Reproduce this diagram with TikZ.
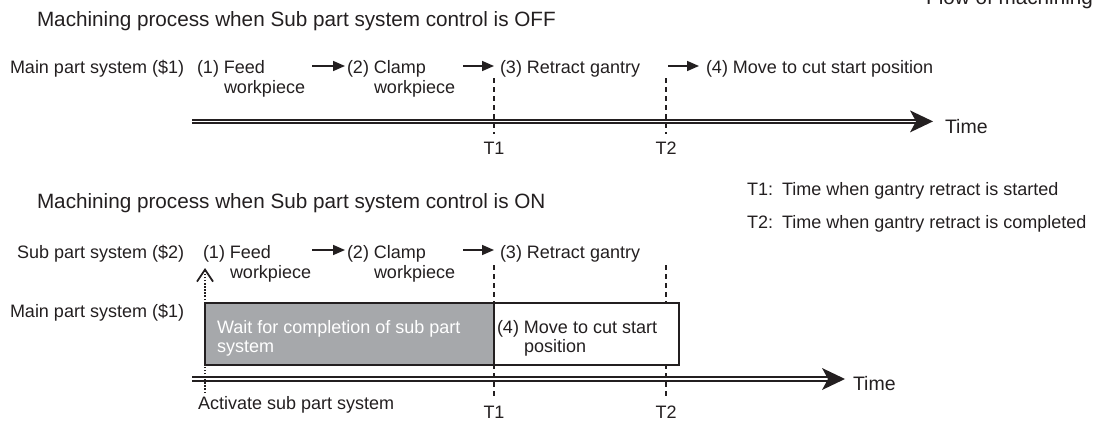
\documentclass[tikz,border=0pt]{standalone}
\usepackage{fontspec}
\setmainfont{Liberation Sans}
\usetikzlibrary{arrows.meta}
\definecolor{ink}{HTML}{231F20}
\definecolor{waitgray}{HTML}{A6A8AB}
\newcommand{\hangtext}[3]{#1\begin{tabular}[t]{@{}l@{}}#2\\#3\end{tabular}}
\tikzset{
  lbl/.style={inner sep=0pt, outer sep=0pt, text=ink, anchor=base west, font=\fontsize{18}{20.5}\selectfont},
  ttl/.style={lbl, font=\fontsize{20.7}{24}\selectfont},
  timelbl/.style={lbl, font=\fontsize{19.5}{22}\selectfont},
  tick/.style={lbl, anchor=base},
  steparrow/.style={draw=ink, line width=1.6, -{Triangle[length=12,width=10]}},
  guide/.style={draw=ink, line width=1.2, dash pattern=on 5 off 4},
  railline/.style={draw=ink, line width=2},
  headfill/.style={fill=ink},
  activate/.style={draw=ink, line width=1.5, dash pattern=on 1.5 off 1.6, -{Straight Barb[length=12,width=16,line width=1.8]}},
  waitbox/.style={draw=ink, line width=1.2, fill=waitgray},
  movebox/.style={draw=ink, line width=1.2, fill=white},
}
\begin{document}
\begin{tikzpicture}[x=1pt,y=-1pt]
\useasboundingbox (0,0) rectangle (1096,423);

% ---------- top section ----------
\node[ttl] (title1) at (37,26) {Machining process when Sub part system control is OFF};
\node[ttl, anchor=base east] (flow) at (1093,5) {Flow of machining};

\node[lbl] (main1) at (10,73) {Main part system (\$1)};
\node[lbl] (a1) at (197,73) {\hangtext{(1) }{Feed}{workpiece}};
\node[lbl] (a2) at (347,73) {\hangtext{(2) }{Clamp}{workpiece}};
\node[lbl] (a3) at (500,73) {(3) Retract gantry};
\node[lbl] (a4) at (706,73) {(4) Move to cut start position};

\coordinate (ar1s) at (312,66); \coordinate (ar1e) at (345,66);
\coordinate (ar2s) at (463,66); \coordinate (ar2e) at (494,66);
\coordinate (ar3s) at (668,66); \coordinate (ar3e) at (699,66);
\draw[steparrow] (ar1s) -- (ar1e);
\draw[steparrow] (ar2s) -- (ar2e);
\draw[steparrow] (ar3s) -- (ar3e);

% time line 1
\coordinate (tl1s) at (192,121.4);
\coordinate (tl1e) at (918,121.4);
\coordinate (tl1tip) at (933,121.4);
\draw[railline] ([yshift=-1.9]tl1s) -- ([yshift=-1.9]tl1e);
\draw[railline] ([yshift=1.9]tl1s) -- ([yshift=1.9]tl1e);
\fill[headfill] (tl1tip) -- ++(-23,-11) -- ++(6,11) -- ++(-6,11) -- cycle;
\node[timelbl] (time1) at (945,133) {Time};

% guides top
\coordinate (g1a) at (494,78); \coordinate (g1b) at (494,134);
\coordinate (g2a) at (666,78); \coordinate (g2b) at (666,134);
\draw[guide] (g1a) -- (g1b);
\draw[guide] (g2a) -- (g2b);
\node[tick] (t1a) at (494,154) {T1};
\node[tick] (t2a) at (666,154) {T2};

% legend
\node[lbl] (leg1) at (747,195) {T1:\hspace{0.5em}Time when gantry retract is started};
\node[lbl] (leg2) at (747,228) {T2:\hspace{0.5em}Time when gantry retract is completed};

% ---------- bottom section ----------
\node[ttl] (title2) at (37,208) {Machining process when Sub part system control is ON};

\node[lbl] (sub) at (17,258) {Sub part system (\$2)};
\node[lbl] (b1) at (203,258) {\hangtext{(1) }{Feed}{workpiece}};
\node[lbl] (b2) at (347,258) {\hangtext{(2) }{Clamp}{workpiece}};
\node[lbl] (b3) at (500,258) {(3) Retract gantry};

\coordinate (br1s) at (312,250); \coordinate (br1e) at (345,250);
\coordinate (br2s) at (463,250); \coordinate (br2e) at (494,250);
\draw[steparrow] (br1s) -- (br1e);
\draw[steparrow] (br2s) -- (br2e);

\node[lbl] (main2) at (10,317) {Main part system (\$1)};

% time line 2
\coordinate (tl2s) at (192,379);
\coordinate (tl2e) at (830,379);
\coordinate (tl2tip) at (845,379);
\draw[railline] ([yshift=-1.9]tl2s) -- ([yshift=-1.9]tl2e);
\draw[railline] ([yshift=1.9]tl2s) -- ([yshift=1.9]tl2e);
\fill[headfill] (tl2tip) -- ++(-23,-11) -- ++(6,11) -- ++(-6,11) -- cycle;
\node[timelbl] (time2) at (853,390) {Time};

% guides bottom
\coordinate (g3a) at (494,265); \coordinate (g3b) at (494,396);
\coordinate (g4a) at (666,265); \coordinate (g4b) at (666,396);
\draw[guide] (g3a) -- (g3b);
\draw[guide] (g4a) -- (g4b);

% boxes
\draw[waitbox] (205,303) rectangle (494,365);
\draw[movebox] (494,303) rectangle (679,365);
\node[lbl, text=white, font=\fontsize{18}{19}\selectfont] (wait) at (217,333) {\begin{tabular}[t]{@{}l@{}}Wait for completion of sub part\\system\end{tabular}};
\node[lbl, font=\fontsize{18}{19}\selectfont] (b4) at (497,333) {\hangtext{(4) }{Move to cut start}{position}};

% activate arrow
\coordinate (acts) at (205,393);
\coordinate (acte) at (205,268);
\draw[activate] (acts) -- (acte);
\node[lbl] (act) at (198,409) {Activate sub part system};

\node[tick] (t1b) at (494,418) {T1};
\node[tick] (t2b) at (666,418) {T2};
\end{tikzpicture}
\end{document}
